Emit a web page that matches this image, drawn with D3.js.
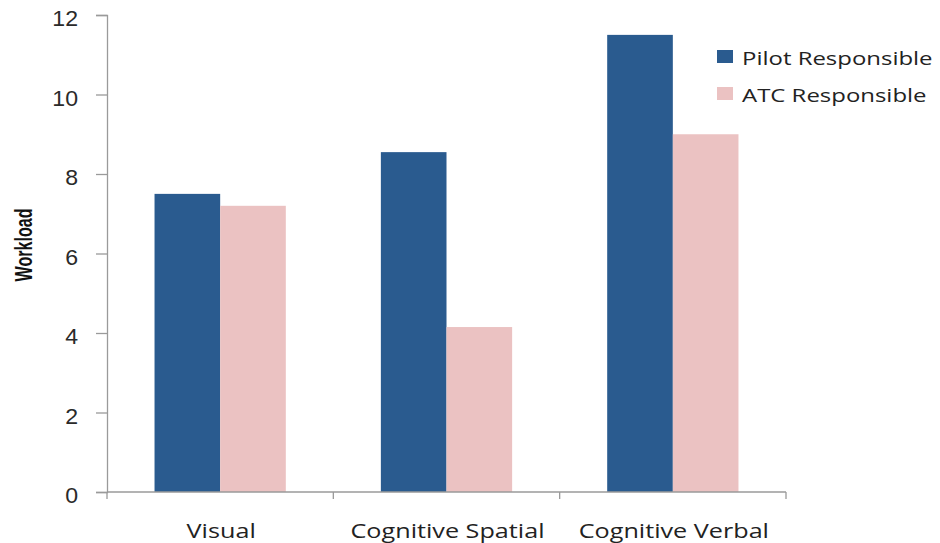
<!DOCTYPE html>
<html>
<head>
<meta charset="utf-8">
<script src="https://cdn.jsdelivr.net/npm/d3@7"></script>
<style>
  html, body { margin: 0; padding: 0; background: #fff; }
  svg { display: block; }
</style>
</head>
<body>
<svg id="chart" width="940" height="543"></svg>
<script>
const categories = ["Visual", "Cognitive Spatial", "Cognitive Verbal"];
const seriesNames = ["Pilot Responsible", "ATC Responsible"];
const pilotValues = [7.5, 8.55, 11.5];
const atcValues = [7.2, 4.15, 9.0];
const yTicks = [0, 2, 4, 6, 8, 10, 12];
const colors = ["#2a5b8f", "#ebc2c2"];

(function () {
const svg = d3.select("#chart");
const stretch = 1.26;
const mLeft = 107, mRight = 786, mTop = 15, mBottom = 492;

const x0 = d3.scaleBand().domain(categories).range([mLeft, mRight]).paddingInner(0.42).paddingOuter(0.21);
const x1 = d3.scaleBand().domain(seriesNames).range([0, x0.bandwidth()]);
const y = d3.scaleLinear().domain([0, 12]).range([mBottom, mTop]);

const data = categories.map((c, i) => ({cat: c, vals: [pilotValues[i], atcValues[i]]}));

// bars
const g = svg.append("g");
data.forEach(d => {
  d.vals.forEach((v, j) => {
    g.append("rect")
      .attr("x", x0(d.cat) + x1(seriesNames[j]))
      .attr("y", y(v))
      .attr("width", x1.bandwidth())
      .attr("height", y(0) - y(v))
      .attr("fill", colors[j]);
  });
});

// y axis
const yAxis = svg.append("g").attr("transform", `translate(${mLeft},0)`)
  .call(d3.axisLeft(y).tickValues(yTicks).tickSize(11).tickPadding(0).tickFormat(d3.format("d")));
yAxis.select(".domain").attr("stroke", "#9a9a9a").attr("stroke-width", 1.3);
yAxis.selectAll(".tick line").attr("stroke", "#9a9a9a").attr("stroke-width", 1.3);
yAxis.selectAll(".tick text").remove();
yTicks.forEach(t => {
  svg.append("text")
    .attr("transform", `translate(78,${y(t) + 11}) scale(1.05,1)`)
    .attr("text-anchor", "end")
    .attr("font-family", "Liberation Sans, Arial, sans-serif")
    .attr("font-size", 22)
    .attr("fill", "#2a2a2a")
    .text(t);
});

// x axis
const xAxisG = svg.append("g").attr("transform", `translate(0,${mBottom})`);
xAxisG.append("line").attr("x1", mLeft).attr("x2", mRight).attr("y1", 0).attr("y2", 0)
  .attr("stroke", "#9a9a9a").attr("stroke-width", 1.3);
const boundaries = [mLeft].concat(categories.map(c => x0(c) + x0.bandwidth() + x0.step() * x0.paddingInner() / 2));
boundaries[boundaries.length - 1] = mRight;
boundaries.forEach(b => {
  xAxisG.append("line").attr("x1", b).attr("x2", b).attr("y1", 0).attr("y2", 7)
    .attr("stroke", "#9a9a9a").attr("stroke-width", 1.3);
});
categories.forEach(c => {
  svg.append("text")
    .attr("transform", `translate(${x0(c) + x0.bandwidth() / 2 + 1},538) scale(${stretch},1)`)
    .attr("text-anchor", "middle")
    .attr("font-family", "Open Sans, Noto Sans, sans-serif")
    .attr("font-size", 20)
    .attr("fill", "#222")
    .text(c);
});

// y axis title
svg.append("text")
  .attr("transform", `translate(32,245) rotate(-90) scale(0.7,1)`)
  .attr("text-anchor", "middle")
  .attr("font-family", "Liberation Sans, Arial, sans-serif")
  .attr("font-weight", "bold")
  .attr("font-size", 23)
  .attr("fill", "#111")
  .text("Workload");

// legend
seriesNames.forEach((s, i) => {
  const ly = 50 + i * 37;
  svg.append("rect").attr("x", 717).attr("y", ly).attr("width", 16).attr("height", 13).attr("fill", colors[i]);
  svg.append("text")
    .attr("transform", `translate(742,${ly + 14.5}) scale(${stretch},1)`)
    .attr("font-family", "Open Sans, Noto Sans, sans-serif")
    .attr("font-size", 19)
    .attr("fill", "#222")
    .text(s);
});
})();
</script>
</body>
</html>
